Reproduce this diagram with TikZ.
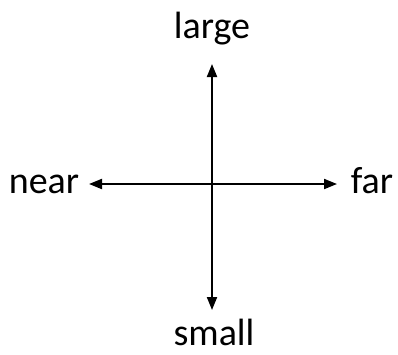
\documentclass[tikz,border=0pt]{standalone}
\usepackage{fontspec}
\setmainfont{Carlito}
\usetikzlibrary{arrows.meta}
\tikzset{>={Triangle[length=13pt,width=10pt]}}

\begin{document}
\begin{tikzpicture}[
    x=1pt, y=-1pt,
    axislabel/.style={font=\fontsize{38}{42}\selectfont, inner sep=0pt, anchor=base},
    axisline/.style={<->, line width=2pt}
]
\useasboundingbox (0,0) rectangle (398,354);
\node[axislabel] (large) at (212,38) {large};
\node[axislabel] (small) at (214,345) {small};
\node[axislabel] (near) at (44,193) {near};
\node[axislabel] (far) at (372,193) {far};

\coordinate (top) at (212,64);
\coordinate (bottom) at (212,310);
\coordinate (left) at (89,184);
\coordinate (right) at (337,184);

\draw[axisline] (top) -- (bottom);
\draw[axisline] (left) -- (right);
\end{tikzpicture}
\end{document}
